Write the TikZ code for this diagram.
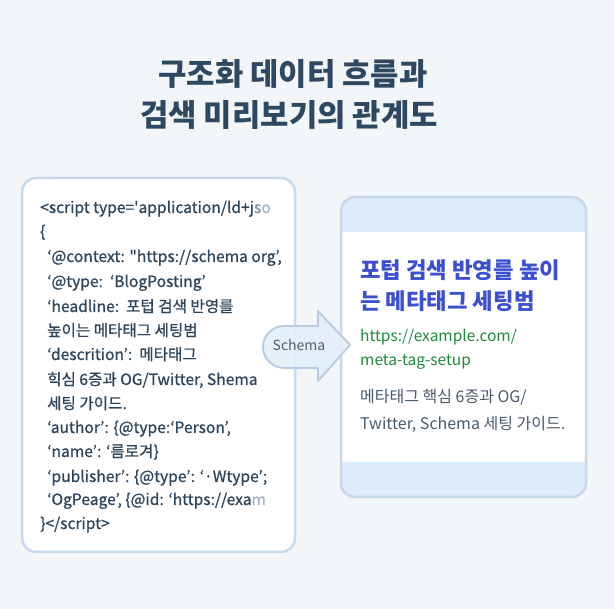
\documentclass[tikz,border=0pt]{standalone}
\usepackage{fontspec}
\setmainfont{Noto Sans CJK KR}
\newfontfamily\codefont{Noto Sans CJK KR}[FakeBold=0.8]
\definecolor{bgc}{HTML}{F3F6F9}
\definecolor{titlec}{HTML}{2D4860}
\definecolor{codec}{HTML}{2E465C}
\definecolor{fadec}{HTML}{A9B6C2}
\definecolor{boxline}{HTML}{C7DAEB}
\definecolor{bandc}{HTML}{DDECF8}
\definecolor{arrowfill}{HTML}{E3EEF8}
\definecolor{arrowline}{HTML}{B5CCE2}
\definecolor{headc}{HTML}{3B4FD0}
\definecolor{urlc}{HTML}{1F8A3B}
\definecolor{descc}{HTML}{4A5C6D}
\tikzset{
  codeline/.style={anchor=base west, inner sep=0pt, font=\codefont\fontsize{15.6}{17}\selectfont, text=codec},
  titleline/.style={anchor=base, inner sep=0pt, font=\fontsize{30.8}{34}\selectfont\bfseries, text=titlec},
  headline/.style={anchor=base west, inner sep=0pt, font=\fontsize{22.3}{26}\selectfont\bfseries, text=headc},
  urlline/.style={anchor=base west, inner sep=0pt, font=\fontsize{15.5}{18}\selectfont, text=urlc},
  descline/.style={anchor=base west, inner sep=0pt, font=\fontsize{16}{18}\selectfont, text=descc},
}
\begin{document}
\begin{tikzpicture}[x=1pt,y=-1pt]
\useasboundingbox (0,0) rectangle (614,609);
\fill[bgc] (0,0) rectangle (614,609);
% title
\node[titleline] (t1) at (293,86) {구조화 데이터 흐름과};
\node[titleline] (t2) at (289,127) {검색 미리보기의 관계도};
% left box
\draw[boxline, line width=2.5pt, fill=white, rounded corners=14pt] (22,178) rectangle (295,552);
\coordinate (leftbox) at (158,365);
\begin{scope}
\clip (24,180) rectangle (286,550);
\node[codeline] (c1) at (40,213) {<script type='application/ld+j\textcolor{fadec!70!codec}{s}\textcolor{fadec}{o}};
\node[codeline] (c2) at (40,237) {\{};
\node[codeline] (c3) at (47,262) {‘@context: "https://schema org’,};
\node[codeline] (c4) at (47,287) {‘@type:\ \ ‘BlogPosting’};
\node[codeline] (c5) at (47,312) {‘headline:\ \ 포텁 검색 반영를};
\node[codeline] (c6) at (47,336) {높이는 메타태그 세팅범};
\node[codeline] (c7) at (47,360) {‘descrition’:\ \ 메타태그};
\node[codeline] (c8) at (47,385) {힉심 6증과 OG/Twitter, Shema};
\node[codeline] (c9) at (47,409) {세팅 가이드.};
\node[codeline] (c10) at (47,433) {‘author’: \{@type:‘Person’,};
\node[codeline] (c11) at (47,457) {‘name’: ‘름로겨\}};
\node[codeline] (c12) at (47,482) {‘publisher’: \{@type’: ‘·Wtype’;};
\node[codeline] (c13) at (47,505) {‘OgPeage’, \{@id: ‘https://exa\textcolor{fadec}{m}};
\node[codeline] (c14) at (40,529) {\}</script>};
\end{scope}
% right box
\fill[bandc, rounded corners=14pt] (341,197) rectangle (586,497);
\fill[white] (342,232) rectangle (585,462);
\draw[boxline, line width=2.5pt, rounded corners=14pt] (341,197) rectangle (586,497);
\coordinate (rightbox) at (463,347);
\node[headline] (h1) at (360,279) {포텁 검색 반영를 높이};
\node[headline] (h2) at (360,310) {는 메타태그 세팅범};
\node[urlline] (u1) at (360,342) {https://example.com/};
\node[urlline] (u2) at (360,366) {meta-tag-setup};
\node[descline] (d1) at (360,403) {메타태그 핵심 6증과 OG/};
\node[descline] (d2) at (360,430) {Twitter, Schema 세팅 가이드.};
% schema arrow
\draw[arrowline, line width=1.8pt, fill=arrowfill, fill opacity=0.88, line join=round]
  (350,345) -- (318,311) -- (318,326) -- (284,326)
  .. controls (272.4,326) and (263,335.4) .. (263,347)
  .. controls (263,358.6) and (272.4,368) .. (284,368)
  -- (318,368) -- (318,381) -- cycle;
\node[inner sep=0pt, font=\fontsize{14}{16}\selectfont, text=codec!85] (schema) at (299,345) {Schema};
\end{tikzpicture}
\end{document}
